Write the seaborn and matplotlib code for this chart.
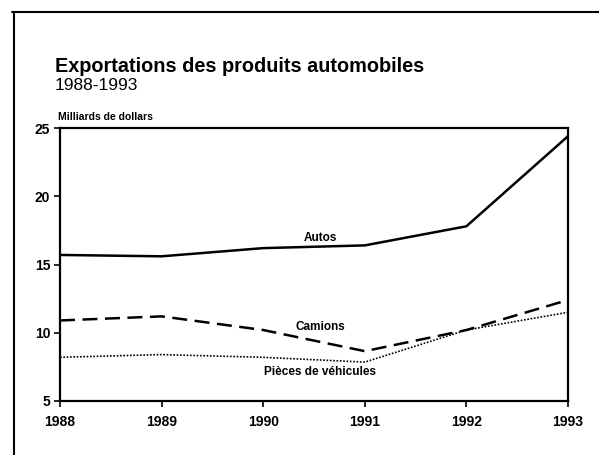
import numpy as np
import matplotlib.pyplot as plt
import seaborn as sns
import pandas as pd
from matplotlib.lines import Line2D

# data (billions of dollars)
years = [1988, 1989, 1990, 1991, 1992, 1993]
autos = [15.7, 15.6, 16.2, 16.4, 17.8, 24.4]
camions = [10.9, 11.2, 10.2, 8.65, 10.2, 12.4]
pieces = [8.2, 8.4, 8.2, 7.85, 10.2, 11.5]
yticks = [5, 10, 15, 20, 25]

sns.set_style('ticks')
plt.rcParams['font.family'] = ['Liberation Sans', 'DejaVu Sans']
plt.rcParams['text.color'] = 'black'

fig = plt.figure(figsize=(5.99, 4.55), dpi=100)
ax = fig.add_axes([60 / 599, 1 - 401 / 455, (568 - 60) / 599, (401 - 128) / 455])

sns.lineplot(x=years, y=autos, ax=ax, color='black', linewidth=1.8)
sns.lineplot(x=years, y=camions, ax=ax, color='black', linewidth=1.8,
             linestyle=(0, (6, 3)))
sns.lineplot(x=years, y=pieces, ax=ax, color='black', linewidth=1.2,
             linestyle=(0, (1, 1)))

ax.set_xlim(1988, 1993)
ax.set_ylim(5, 25)
ax.set_xticks(years)
ax.set_yticks(yticks)
ax.tick_params(direction='out', length=4, width=1.2, colors='black',
               labelcolor='black', labelsize=10, pad=3)
ax.tick_params(axis='x', pad=6)
for lbl in ax.get_xticklabels() + ax.get_yticklabels():
    lbl.set_fontweight('bold')
for s in ax.spines.values():
    s.set_visible(True)
    s.set_linewidth(1.6)
    s.set_color('black')

ax.text(1990.56, 16.95, 'Autos', ha='center', va='center', fontsize=8.5, fontweight='bold')
ax.text(1990.56, 10.4, 'Camions', ha='center', va='center', fontsize=8.5, fontweight='bold')
ax.text(1990.56, 7.1, 'Pièces de véhicules', ha='center', va='center', fontsize=8.5, fontweight='bold')

fig.text(55 / 599, 1 - 66 / 455, 'Exportations des produits automobiles',
         fontsize=14.3, fontweight='bold', va='center', ha='left')
fig.text(55 / 599, 1 - 85 / 455, '1988-1993', fontsize=12.5, va='center', ha='left')
fig.text(58 / 599, 1 - 117 / 455, 'Milliards de dollars', fontsize=7.5,
         fontweight='bold', va='center', ha='left')

# outer frame of the scanned page (top and left edges)
fig.add_artist(Line2D([12 / 599, 1], [1 - 12 / 455] * 2, color='black', lw=1.5,
                      transform=fig.transFigure))
fig.add_artist(Line2D([14 / 599] * 2, [0, 1 - 12 / 455], color='black', lw=1.5,
                      transform=fig.transFigure))

fig.savefig('out.png', dpi=100, facecolor='white')
